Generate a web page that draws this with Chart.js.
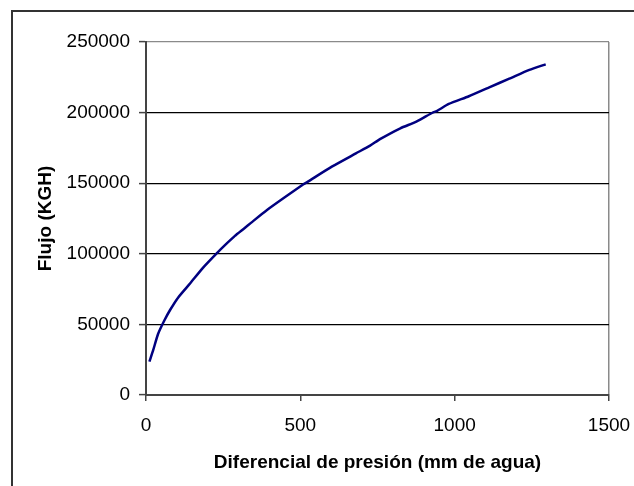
<!DOCTYPE html>
<html>
<head>
<meta charset="utf-8">
<script src="https://cdn.jsdelivr.net/npm/chart.js@4.4.1/dist/chart.umd.min.js"></script>
<style>
  html, body { margin: 0; padding: 0; background: #fff; }
  canvas { display: block; }
</style>
</head>
<body>
<canvas id="c" width="634" height="486"></canvas>
<script>
// Data
const pressure = [11, 23.5, 39, 59, 78, 105, 144, 183, 229, 260, 288, 317, 340, 392, 445, 510, 521, 602, 680, 726, 758, 824, 876, 928, 942, 981, 1046, 1112, 1177, 1242, 1295];
const flow     = [23600, 31900, 43200, 52600, 60200, 69300, 79300, 89700, 100300, 107000, 112700, 117800, 121900, 131000, 139300, 149200, 150600, 161700, 171100, 176600, 181200, 188900, 193600, 199900, 201100, 206100, 211600, 217900, 224000, 230200, 234200];
const xTicks = [0, 500, 1000, 1500];
const yTicks = [0, 50000, 100000, 150000, 200000, 250000];
const xTitle = 'Diferencial de presión (mm de agua)';
const yTitle = 'Flujo (KGH)';

const points = pressure.map((p, i) => ({ x: p, y: flow[i] }));

Chart.defaults.font.family = '"Liberation Sans", Arial, sans-serif';
Chart.defaults.color = '#000';

const framePlugin = {
  id: 'frame',
  afterDraw(chart) {
    const ctx = chart.ctx;
    ctx.save();
    ctx.strokeStyle = '#333';
    ctx.lineWidth = 2;
    ctx.beginPath();
    ctx.moveTo(12, 486);
    ctx.lineTo(12, 11);
    ctx.lineTo(634, 11);
    ctx.stroke();
    ctx.restore();
  }
};

new Chart(document.getElementById('c'), {
  type: 'line',
  data: {
    datasets: [{
      data: points,
      borderColor: '#000080',
      borderWidth: 2.5,
      pointRadius: 0,
      tension: 0.2,
      fill: false
    }]
  },
  options: {
    responsive: false,
    animation: false,
    layout: { padding: { left: 0, top: 42, right: 25, bottom: 0 } },
    plugins: { legend: { display: false }, tooltip: { enabled: false } },
    scales: {
      x: {
        type: 'linear',
        min: xTicks[0],
        max: xTicks[xTicks.length - 1],
        afterBuildTicks: s => { s.ticks = xTicks.map(v => ({ value: v })); },
        ticks: { font: { size: 19 }, padding: 13, maxRotation: 0, color: '#000', callback: v => String(v) },
        grid: {
          color: c => (c.tick && c.tick.value === xTicks[xTicks.length - 1]) ? '#8a8a8a' : 'rgba(0,0,0,0)',
          tickColor: '#444',
          tickLength: 6,
          lineWidth: 1.5,
          tickWidth: 1.5
        },
        border: { color: '#444', width: 2 },
        title: {
          display: true, text: xTitle, color: '#000',
          font: { size: 19, weight: 'bold' },
          padding: { top: 12, bottom: 12 }
        },
        afterFit: s => { s.height = 91; s.paddingLeft = 0; s.paddingRight = 0; }
      },
      y: {
        type: 'linear',
        min: yTicks[0],
        max: yTicks[yTicks.length - 1],
        afterBuildTicks: s => { s.ticks = yTicks.map(v => ({ value: v })); },
        ticks: { font: { size: 19 }, padding: 9, color: '#000', callback: v => String(v) },
        grid: {
          color: c => {
            if (!c.tick) return '#000';
            if (c.tick.value === yTicks[yTicks.length - 1]) return '#8a8a8a';
            if (c.tick.value === 0) return 'rgba(0,0,0,0)';
            return '#000';
          },
          tickColor: '#444',
          tickLength: 7,
          lineWidth: 1.2,
          tickWidth: 1.5
        },
        border: { color: '#444', width: 2 },
        title: {
          display: true, text: yTitle, color: '#000',
          font: { size: 19, weight: 'bold' },
          padding: { top: 34, bottom: 34 }
        },
        afterFit: s => { s.width = 146; s.paddingTop = 0; s.paddingBottom = 0; }
      }
    }
  },
  plugins: [framePlugin]
});
</script>
</body>
</html>
